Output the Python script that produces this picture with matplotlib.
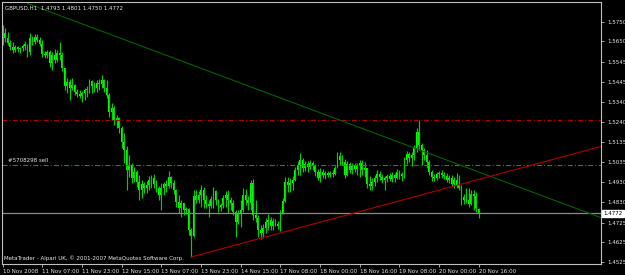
import matplotlib
matplotlib.use("Agg")
import matplotlib.pyplot as plt

# GBPUSD H1, 10 Nov 2008 15:00 .. 20 Nov 2008 16:00 (one bar per hour)
opens = [
    1.5647, 1.5692, 1.5667, 1.5642, 1.5621, 1.5606, 1.5621, 1.5611, 1.5616, 1.5626,
    1.5631, 1.5596, 1.5667, 1.5647, 1.5672, 1.5657, 1.5636, 1.5586, 1.5580, 1.5596,
    1.5540, 1.5580, 1.5555, 1.5591, 1.5580, 1.5514, 1.5423, 1.5443, 1.5412, 1.5428,
    1.5392, 1.5382, 1.5372, 1.5387, 1.5402, 1.5407, 1.5448, 1.5423, 1.5412, 1.5438,
    1.5433, 1.5453, 1.5412, 1.5377, 1.5290, 1.5310, 1.5249, 1.5259, 1.5208, 1.5137,
    1.5096, 1.4994, 1.5019, 1.4953, 1.4984, 1.4933, 1.4892, 1.4923, 1.4902, 1.4918,
    1.4943, 1.4953, 1.4923, 1.4902, 1.4867, 1.4902, 1.4923, 1.4912, 1.4958, 1.4928,
    1.4892, 1.4831, 1.4800, 1.4826, 1.4790, 1.4795, 1.4688, 1.4657, 1.4862, 1.4841,
    1.4867, 1.4892, 1.4841, 1.4821, 1.4811, 1.4846, 1.4887, 1.4841, 1.4806, 1.4816,
    1.4851, 1.4867, 1.4841, 1.4826, 1.4780, 1.4729, 1.4770, 1.4790, 1.4867, 1.4841,
    1.4826, 1.4928, 1.4765, 1.4749, 1.4688, 1.4672, 1.4698, 1.4729, 1.4739, 1.4708,
    1.4734, 1.4719, 1.4708, 1.4770, 1.4836, 1.4933, 1.4918, 1.4928, 1.4943, 1.4994,
    1.5019, 1.5045, 1.5004, 1.5024, 1.5009, 1.5030, 1.5014, 1.4984, 1.4953, 1.4984,
    1.4968, 1.4979, 1.4968, 1.4979, 1.4974, 1.5004, 1.5065, 1.5045, 1.5035, 1.4968,
    1.5024, 1.4994, 1.5014, 1.4999, 1.5014, 1.5030, 1.4994, 1.5004, 1.4923, 1.4912,
    1.4933, 1.4953, 1.4974, 1.4958, 1.4943, 1.4953, 1.4963, 1.4948, 1.4968, 1.4953,
    1.4984, 1.4963, 1.4974, 1.5045, 1.5076, 1.5055, 1.5070, 1.5106, 1.5188, 1.5121,
    1.5096, 1.5070, 1.5035, 1.4984, 1.4958, 1.4953, 1.4974, 1.4979, 1.4968, 1.4963,
    1.4943, 1.4953, 1.4923, 1.4943, 1.4918, 1.4902, 1.4841, 1.4856, 1.4841, 1.4821,
    1.4872, 1.4862, 1.4793,
]
highs = [
    1.5733, 1.5718, 1.5698, 1.5657, 1.5647, 1.5631, 1.5626, 1.5621, 1.5636, 1.5652,
    1.5636, 1.5692, 1.5677, 1.5687, 1.5687, 1.5672, 1.5657, 1.5601, 1.5606, 1.5606,
    1.5596, 1.5611, 1.5606, 1.5647, 1.5596, 1.5514, 1.5463, 1.5458, 1.5463, 1.5433,
    1.5407, 1.5402, 1.5397, 1.5412, 1.5423, 1.5458, 1.5453, 1.5443, 1.5453, 1.5458,
    1.5479, 1.5458, 1.5453, 1.5387, 1.5336, 1.5320, 1.5274, 1.5264, 1.5218, 1.5182,
    1.5116, 1.5070, 1.5030, 1.5009, 1.4994, 1.4968, 1.4943, 1.4933, 1.4938, 1.4963,
    1.4968, 1.4974, 1.4943, 1.4912, 1.4928, 1.4933, 1.4943, 1.4989, 1.4963, 1.4943,
    1.4897, 1.4867, 1.4841, 1.4826, 1.4806, 1.4800, 1.4698, 1.4892, 1.4892, 1.4887,
    1.4918, 1.4907, 1.4867, 1.4841, 1.4862, 1.4907, 1.4892, 1.4846, 1.4826, 1.4867,
    1.4887, 1.4892, 1.4856, 1.4841, 1.4790, 1.4790, 1.4841, 1.4902, 1.4897, 1.4862,
    1.4943, 1.4948, 1.4841, 1.4765, 1.4713, 1.4719, 1.4749, 1.4770, 1.4754, 1.4749,
    1.4744, 1.4734, 1.4790, 1.4851, 1.4958, 1.4958, 1.4953, 1.4963, 1.5009, 1.5040,
    1.5081, 1.5055, 1.5040, 1.5040, 1.5045, 1.5040, 1.5024, 1.4999, 1.5004, 1.4999,
    1.4989, 1.4989, 1.4989, 1.4994, 1.5014, 1.5086, 1.5086, 1.5070, 1.5050, 1.5040,
    1.5035, 1.5030, 1.5030, 1.5030, 1.5045, 1.5045, 1.5035, 1.5004, 1.4963, 1.4953,
    1.4968, 1.4994, 1.4989, 1.4974, 1.4963, 1.4974, 1.4979, 1.4984, 1.4979, 1.4999,
    1.4994, 1.4984, 1.5060, 1.5091, 1.5086, 1.5086, 1.5121, 1.5208, 1.5249, 1.5132,
    1.5106, 1.5096, 1.5045, 1.4994, 1.4974, 1.4984, 1.4989, 1.4994, 1.4984, 1.4979,
    1.4968, 1.4968, 1.4958, 1.4979, 1.4968, 1.4918, 1.4872, 1.4902, 1.4902, 1.4892,
    1.4892, 1.4882, 1.4801,
]
lows = [
    1.5631, 1.5647, 1.5631, 1.5606, 1.5591, 1.5596, 1.5596, 1.5591, 1.5601, 1.5606,
    1.5570, 1.5580, 1.5631, 1.5636, 1.5647, 1.5626, 1.5570, 1.5565, 1.5565, 1.5519,
    1.5504, 1.5540, 1.5545, 1.5555, 1.5499, 1.5402, 1.5387, 1.5351, 1.5402, 1.5377,
    1.5367, 1.5362, 1.5341, 1.5351, 1.5367, 1.5387, 1.5387, 1.5392, 1.5392, 1.5402,
    1.5412, 1.5392, 1.5362, 1.5264, 1.5249, 1.5223, 1.5208, 1.5182, 1.5106, 1.5030,
    1.4892, 1.4958, 1.4928, 1.4933, 1.4907, 1.4841, 1.4851, 1.4877, 1.4877, 1.4892,
    1.4902, 1.4902, 1.4882, 1.4841, 1.4790, 1.4867, 1.4882, 1.4902, 1.4902, 1.4872,
    1.4806, 1.4775, 1.4754, 1.4765, 1.4770, 1.4662, 1.4550, 1.4652, 1.4826, 1.4826,
    1.4806, 1.4800, 1.4800, 1.4754, 1.4800, 1.4800, 1.4816, 1.4780, 1.4785, 1.4800,
    1.4806, 1.4775, 1.4790, 1.4765, 1.4652, 1.4719, 1.4703, 1.4780, 1.4816, 1.4790,
    1.4790, 1.4739, 1.4729, 1.4652, 1.4642, 1.4647, 1.4672, 1.4688, 1.4688, 1.4688,
    1.4708, 1.4693, 1.4683, 1.4770, 1.4831, 1.4882, 1.4882, 1.4892, 1.4938, 1.4968,
    1.4968, 1.4984, 1.4989, 1.4984, 1.4999, 1.4994, 1.4963, 1.4943, 1.4933, 1.4953,
    1.4948, 1.4958, 1.4958, 1.4958, 1.4968, 1.5004, 1.5019, 1.5019, 1.4953, 1.4963,
    1.4979, 1.4974, 1.4984, 1.4968, 1.4958, 1.4968, 1.4958, 1.4902, 1.4892, 1.4892,
    1.4912, 1.4933, 1.4943, 1.4928, 1.4892, 1.4933, 1.4938, 1.4933, 1.4933, 1.4948,
    1.4948, 1.4938, 1.4953, 1.5024, 1.5035, 1.5014, 1.5045, 1.5086, 1.5096, 1.5019,
    1.5045, 1.5004, 1.4968, 1.4938, 1.4938, 1.4943, 1.4953, 1.4953, 1.4948, 1.4933,
    1.4928, 1.4912, 1.4902, 1.4902, 1.4892, 1.4816, 1.4821, 1.4826, 1.4806, 1.4816,
    1.4790, 1.4780, 1.4750,
]
closes = [
    1.5692, 1.5667, 1.5642, 1.5621, 1.5606, 1.5621, 1.5611, 1.5616, 1.5626, 1.5636,
    1.5596, 1.5667, 1.5647, 1.5672, 1.5657, 1.5636, 1.5586, 1.5580, 1.5596, 1.5540,
    1.5580, 1.5555, 1.5591, 1.5580, 1.5514, 1.5423, 1.5443, 1.5412, 1.5428, 1.5392,
    1.5382, 1.5372, 1.5387, 1.5402, 1.5407, 1.5448, 1.5423, 1.5412, 1.5438, 1.5433,
    1.5453, 1.5412, 1.5377, 1.5290, 1.5310, 1.5249, 1.5259, 1.5208, 1.5137, 1.5096,
    1.4994, 1.5019, 1.4953, 1.4984, 1.4933, 1.4892, 1.4923, 1.4902, 1.4918, 1.4943,
    1.4953, 1.4923, 1.4902, 1.4867, 1.4902, 1.4923, 1.4912, 1.4958, 1.4928, 1.4892,
    1.4831, 1.4800, 1.4826, 1.4790, 1.4795, 1.4688, 1.4657, 1.4862, 1.4841, 1.4867,
    1.4892, 1.4841, 1.4821, 1.4811, 1.4846, 1.4887, 1.4841, 1.4806, 1.4816, 1.4851,
    1.4867, 1.4841, 1.4826, 1.4780, 1.4729, 1.4770, 1.4790, 1.4867, 1.4841, 1.4826,
    1.4928, 1.4765, 1.4749, 1.4688, 1.4672, 1.4698, 1.4729, 1.4739, 1.4708, 1.4734,
    1.4719, 1.4708, 1.4770, 1.4836, 1.4933, 1.4918, 1.4928, 1.4943, 1.4994, 1.5019,
    1.5045, 1.5004, 1.5024, 1.5009, 1.5030, 1.5014, 1.4984, 1.4953, 1.4984, 1.4968,
    1.4979, 1.4968, 1.4979, 1.4974, 1.5004, 1.5065, 1.5045, 1.5035, 1.4968, 1.5024,
    1.4994, 1.5014, 1.4999, 1.5014, 1.5030, 1.4994, 1.5004, 1.4923, 1.4912, 1.4933,
    1.4953, 1.4974, 1.4958, 1.4943, 1.4953, 1.4963, 1.4948, 1.4968, 1.4953, 1.4984,
    1.4963, 1.4974, 1.5045, 1.5076, 1.5055, 1.5070, 1.5106, 1.5188, 1.5121, 1.5096,
    1.5070, 1.5035, 1.4984, 1.4958, 1.4953, 1.4974, 1.4979, 1.4968, 1.4963, 1.4943,
    1.4953, 1.4923, 1.4943, 1.4918, 1.4902, 1.4841, 1.4856, 1.4841, 1.4821, 1.4872,
    1.4862, 1.4800, 1.4772,
]

# time axis labels (every 16 bars)
date_ticks = [0, 16, 32, 48, 64, 80, 96, 112, 128, 144, 160, 176, 192]
date_labels = ["10 Nov 2008", "11 Nov 07:00", "11 Nov 23:00", "12 Nov 15:00",
               "13 Nov 07:00", "13 Nov 23:00", "14 Nov 15:00", "17 Nov 08:00",
               "18 Nov 00:00", "18 Nov 16:00", "19 Nov 08:00", "20 Nov 00:00",
               "20 Nov 16:00"]
price_ticks = [1.5750, 1.5650, 1.5545, 1.5445, 1.5340, 1.5240, 1.5135,
               1.5035, 1.4930, 1.4830, 1.4725, 1.4625, 1.4525]

# order levels and trend lines
sell_price = 1.5020
stop_price = 1.5250
bid = 1.4772
green_trend = [(10, 1.5843), (155, 1.5158)]
red_trend = [(76, 1.4550), (190, 1.4939)]
x_right = 241.25

plt.rcParams['lines.scale_dashes'] = False
fig = plt.figure(figsize=(6.25, 2.75), dpi=100, facecolor='black')
ax = fig.add_axes([2 / 625, 11 / 275, 599 / 625, 262 / 275], facecolor='black')

idx = list(range(len(closes)))
ax.vlines(idx, lows, highs, color='#00d000', lw=0.85)
body_bottom = [min(o, c) for o, c in zip(opens, closes)]
body_height = [max(abs(c - o), 0.00025) for o, c in zip(opens, closes)]
ax.bar(idx, body_height, bottom=body_bottom, width=0.75, color='#00ff00', lw=0)

# horizontal levels
dashdot = (0, (3.6, 1.5, 0.8, 1.5))
ax.axhline(stop_price, color='#b00000', lw=0.8, ls=dashdot)
ax.axhline(sell_price, color='#00a000', lw=0.8, ls=dashdot)
ax.axhline(bid, color='#8a8a8a', lw=0.9)

# trend lines (rays to the right)
for pts, col in [(green_trend, '#006400'), (red_trend, '#b00000')]:
    (x0, y0), (x1, y1) = pts
    slope = (y1 - y0) / (x1 - x0)
    ax.plot([x0, x_right], [y0, y0 + slope * (x_right - x0)], color=col, lw=0.8)

ax.set_xlim(-0.28, x_right)
ax.set_ylim(1.45143, 1.58505)

for s in ax.spines.values():
    s.set_color('#c0c0c0')
    s.set_linewidth(0.8)

ax.yaxis.tick_right()
ax.set_yticks(price_ticks)
ax.set_yticklabels([f"{p:.4f}" for p in price_ticks])
ax.set_xticks(date_ticks)
ax.set_xticklabels(date_labels, ha='left')
ax.tick_params(axis='both', colors='#c0c0c0', labelcolor='#e8e8e8',
               labelsize=4, length=2.5, width=0.6, pad=1)
ax.tick_params(axis='y', pad=2)

fs = 4
ax.text(0.005, 0.985, "GBPUSD,H1  1.4793 1.4801 1.4750 1.4772",
        transform=ax.transAxes, color='#e8e8e8', fontsize=fs, va='top')
ax.text(0.003, 0.012, "MetaTrader - Alpari UK, \u00a9 2001-2007 MetaQuotes Software Corp.",
        transform=ax.transAxes, color='#e8e8e8', fontsize=fs, va='bottom')
ax.text(2, sell_price + 0.0007, "#5708298 sell", color='#e8e8e8', fontsize=fs,
        va='bottom')
ax.text(1.004, bid, f"{bid:.4f}", transform=ax.get_yaxis_transform(),
        color='black', fontsize=fs, va='center', ha='left',
        bbox=dict(facecolor='white', edgecolor='white', pad=0.8))

fig.savefig("out.png", dpi=100, facecolor='black')
